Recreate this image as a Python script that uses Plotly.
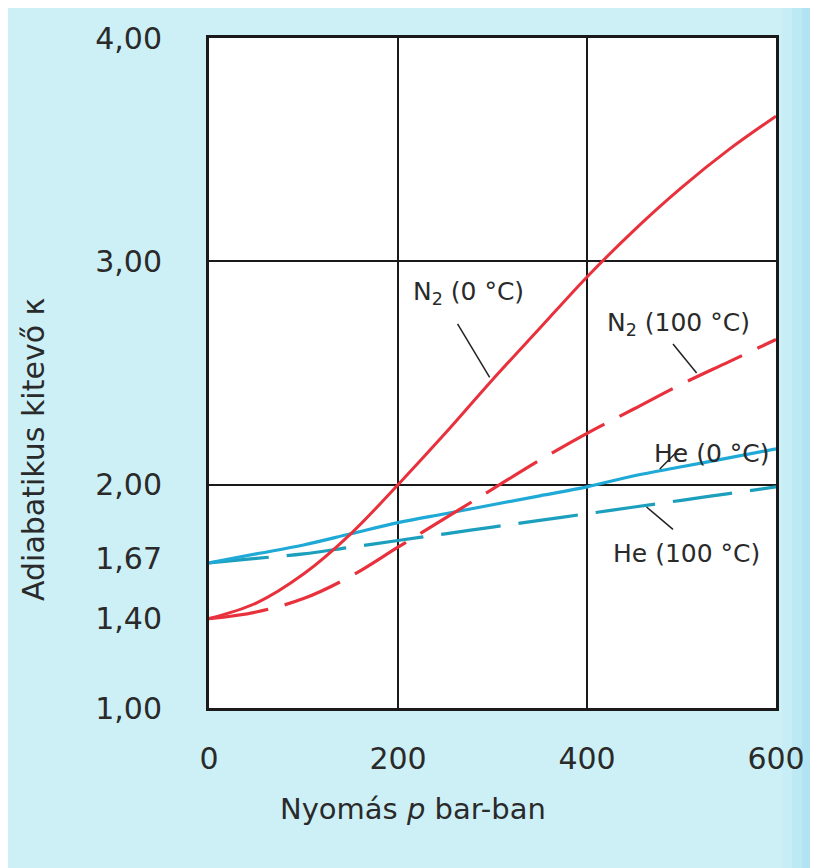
import plotly.graph_objects as go

# ---- data ----
pressure = [0, 50, 100, 150, 200, 250, 300, 350, 400, 450, 500, 550, 600]
n2_0c   = [1.40, 1.47, 1.60, 1.78, 2.00, 2.23, 2.47, 2.70, 2.93, 3.14, 3.33, 3.50, 3.65]
n2_100c = [1.40, 1.43, 1.49, 1.59, 1.72, 1.85, 1.98, 2.11, 2.23, 2.34, 2.45, 2.55, 2.65]
he_0c   = [1.65, 1.69, 1.73, 1.78, 1.83, 1.87, 1.91, 1.95, 1.99, 2.04, 2.08, 2.12, 2.16]
he_100c = [1.65, 1.67, 1.69, 1.72, 1.75, 1.78, 1.81, 1.84, 1.87, 1.90, 1.93, 1.96, 1.99]

x_ticks = [0, 200, 400, 600]
x_ticktext = ["0", "200", "400", "600"]
y_ticks = [1.00, 1.40, 1.67, 2.00, 3.00, 4.00]
y_ticktext = ["1,00", "1,40", "1,67", "2,00", "3,00", "4,00"]
y_grid = [2.00, 3.00]

labels = ["N<sub>2</sub> (0 °C)", "N<sub>2</sub> (100 °C)", "He (0 °C)", "He (100 °C)"]

RED = "#e8313c"
BLUE = "#1ea9d6"
TEAL = "#1c9fbd"
FONT = "DejaVu Sans, Liberation Sans, Arial, sans-serif"
TXT = "#2a2a2a"

# page is drawn with an 8px body margin, so the figure is 8px smaller
OFF = 8
W, H = 810, 860
L, R, T, B = 201, 42, 25, 160
pw, ph = W - L - R, H - T - B


def px_to_paper(px, py):
    return (px - OFF - L) / pw, 1 - (py - OFF - T) / ph


fig = go.Figure()
fig.add_trace(go.Scatter(x=pressure, y=he_100c, mode="lines", line=dict(color=TEAL, width=3.2, dash="60px,18px", shape="spline"), name=labels[3]))
fig.add_trace(go.Scatter(x=pressure, y=he_0c, mode="lines", line=dict(color=BLUE, width=3.2, shape="spline"), name=labels[2]))
fig.add_trace(go.Scatter(x=pressure, y=n2_100c, mode="lines", line=dict(color=RED, width=3.2, dash="60px,17px", shape="spline"), name=labels[1]))
fig.add_trace(go.Scatter(x=pressure, y=n2_0c, mode="lines", line=dict(color=RED, width=3, shape="spline"), name=labels[0]))

# label annotations and pointer lines
label_pos = [(275, 2.86), (497, 2.72), (532, 2.14), (505, 1.69)]
pointers = [((263, 2.72), (297, 2.48)),
            ((491, 2.63), (516, 2.50)),
            ((498, 2.16), (477, 2.07)),
            ((463, 1.90), (491, 1.80))]
for lab, (lx, ly), ((x0, y0), (x1, y1)) in zip(labels, label_pos, pointers):
    fig.add_annotation(x=lx, y=ly, xref="x", yref="y", text=lab, showarrow=False,
                       xanchor="center", yanchor="middle",
                       font=dict(family=FONT, size=25, color=TXT))
    fig.add_shape(type="line", x0=x0, y0=y0, x1=x1, y1=y1, xref="x", yref="y",
                  line=dict(color="#222222", width=1.5))

# axis titles as annotations (placed as in the reference)
ax, ay = px_to_paper(413, 810)
fig.add_annotation(x=ax, y=ay, xref="paper", yref="paper", text="Nyomás <i>p</i> bar-ban",
                   xanchor="center", yanchor="middle",
                   showarrow=False, font=dict(family=FONT, size=29, color=TXT))
ax, ay = px_to_paper(34, 448)
fig.add_annotation(x=ax, y=ay, xref="paper", yref="paper", text="Adiabatikus kitevő κ",
                   xanchor="center", yanchor="middle",
                   textangle=-90, showarrow=False, font=dict(family=FONT, size=30, color=TXT))

# right-edge bluish tint of the page
tints = [(782, 792, "#c7eef6"), (792, 802, "#bde9f4"), (802, 830, "#b1e3f2")]
for xa, xb, col in tints:
    x0p, _ = px_to_paper(xa, 0)
    x1p, _ = px_to_paper(xb, 0)
    fig.add_shape(type="rect", xref="paper", yref="paper", x0=x0p, x1=x1p,
                  y0=-B / ph - 0.05, y1=1 + T / ph + 0.05, fillcolor=col,
                  line=dict(width=0), layer="below")

fig.update_layout(
    width=W, height=H,
    margin=dict(l=L, r=R, t=T, b=B),
    paper_bgcolor="#cdf0f6",
    plot_bgcolor="#ffffff",
    showlegend=False,
    font=dict(family=FONT, size=30, color=TXT),
    xaxis=dict(range=[0, 600], tickvals=x_ticks, ticktext=x_ticktext,
               showgrid=True, gridcolor="#1a1a1a", gridwidth=2,
               showline=True, mirror=True, linecolor="#1a1a1a", linewidth=3,
               zeroline=False, ticks="", ticklabelstandoff=22,
               tickfont=dict(family=FONT, size=30, color=TXT)),
    yaxis=dict(range=[1, 4], tickvals=y_ticks, ticktext=y_ticktext,
               showgrid=False,
               minor=dict(tickmode="array", tickvals=y_grid, showgrid=True,
                          gridcolor="#1a1a1a", gridwidth=2, ticks=""),
               showline=True, mirror=True, linecolor="#1a1a1a", linewidth=3,
               zeroline=False, ticks="", ticklabelstandoff=38,
               tickfont=dict(family=FONT, size=30, color=TXT)),
)

fig.write_html("out.html")
